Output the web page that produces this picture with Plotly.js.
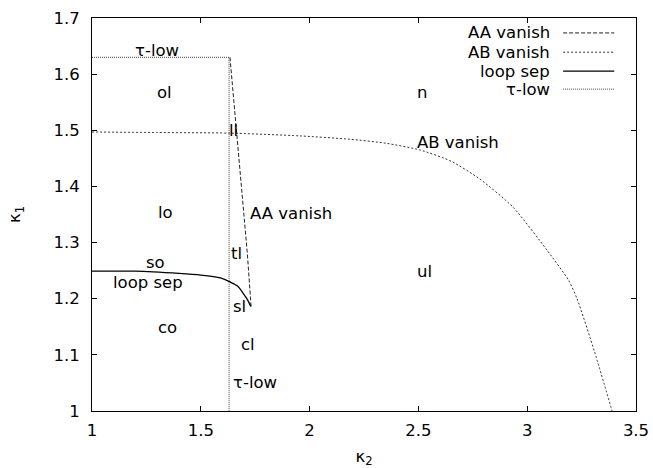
<!DOCTYPE html>
<html>
<head>
<meta charset="utf-8">
<script src="https://cdn.plot.ly/plotly-3.0.1.min.js"></script>
<style>html,body{margin:0;padding:0;background:#fff;}#chart{width:653px;height:468px;}</style>
</head>
<body>
<div id="chart"></div>
<script>
// Data
const aaX = [1.634, 1.649, 1.664, 1.691, 1.714, 1.731];
const aaY = [1.63, 1.565, 1.497, 1.38, 1.28, 1.186];

const abX = [1.0, 1.3, 1.63, 1.956, 2.186, 2.35, 2.507, 2.65, 2.783, 2.935, 3.09, 3.19, 3.229, 3.31, 3.39];
const abY = [1.497, 1.496, 1.495, 1.490, 1.484, 1.477, 1.465, 1.445, 1.413, 1.363, 1.287, 1.233, 1.2, 1.105, 1.0];

const loopX = [1.0, 1.2, 1.4, 1.5, 1.59, 1.634, 1.67, 1.694, 1.715, 1.73];
const loopY = [1.249, 1.249, 1.245, 1.242, 1.237, 1.230, 1.222, 1.21, 1.198, 1.186];

const tauX = [1.0, 1.63, 1.63];
const tauY = [1.63, 1.63, 1.0];

const seriesNames = ["AA vanish", "AB vanish", "loop sep", "τ-low"];

const regionLabels = ["τ-low", "ol", "n", "ll", "AB vanish", "lo", "AA vanish", "tl", "so", "loop sep", "ul", "sl", "co", "cl", "τ-low"];
const regionX = [1.30, 1.335, 2.517, 1.648, 2.68, 1.34, 1.915, 1.666, 1.294, 1.257, 2.53, 1.68, 1.345, 1.717, 1.75];
const regionY = [1.643, 1.568, 1.568, 1.50, 1.479, 1.353, 1.351, 1.28, 1.264, 1.228, 1.248, 1.187, 1.148, 1.119, 1.05];

const xTicks = [1, 1.5, 2, 2.5, 3, 3.5];
const xTickText = ["1", "1.5", "2", "2.5", "3", "3.5"];
const yTicks = [1, 1.1, 1.2, 1.3, 1.4, 1.5, 1.6, 1.7];
const yTickText = ["1", "1.1", "1.2", "1.3", "1.4", "1.5", "1.6", "1.7"];

const styles = [
  {color: "#222", width: 1, dash: "4px,2px"},
  {color: "#333", width: 1, dash: "2px,2px"},
  {color: "#000", width: 1.3, dash: "solid"},
  {color: "#444", width: 1, dash: "1px,1px"}
];
const shapesLine = ["linear", "spline", "spline", "linear"];
const xs = [aaX, abX, loopX, tauX];
const ys = [aaY, abY, loopY, tauY];

const traces = xs.map((x, i) => ({
  x: x, y: ys[i], type: "scatter", mode: "lines", name: seriesNames[i],
  line: Object.assign({shape: shapesLine[i], smoothing: 0.6}, styles[i]),
  showlegend: false, hoverinfo: "skip"
}));

const font = {family: "DejaVu Sans, Liberation Sans, Arial, sans-serif", size: 16.5, color: "#000"};

const annotations = regionLabels.map((t, i) => ({
  x: regionX[i], y: regionY[i], xref: "x", yref: "y", text: t,
  showarrow: false, font: font, xanchor: "center", yanchor: "middle"
}));

// legend (gnuplot style: text right-aligned, sample on right)
const legY = [0.962, 0.913, 0.865, 0.819];
const shapes = [];
seriesNames.forEach((n, i) => {
  annotations.push({
    x: 0.846, y: legY[i], xref: "paper", yref: "paper", text: n,
    showarrow: false, font: font, xanchor: "right", yanchor: "middle"
  });
  shapes.push({
    type: "line", xref: "paper", yref: "paper",
    x0: 0.866, x1: 0.960, y0: legY[i], y1: legY[i],
    line: styles[i]
  });
});

const axisCommon = {
  showline: true, linecolor: "#000", linewidth: 1, mirror: "ticks",
  ticks: "inside", ticklen: 5, tickwidth: 1, tickcolor: "#000",
  showgrid: false, zeroline: false, tickfont: font
};

const layout = {
  width: 653, height: 468,
  margin: {l: 92, r: 17, t: 18, b: 57},
  paper_bgcolor: "#fff", plot_bgcolor: "#fff",
  font: font,
  showlegend: false,
  xaxis: Object.assign({}, axisCommon, {
    range: [1, 3.5], tickvals: xTicks, ticktext: xTickText,
    ticklabelstandoff: 4,
    title: {text: "κ<sub>2</sub>", font: font, standoff: 14}
  }),
  yaxis: Object.assign({}, axisCommon, {
    range: [1, 1.7], tickvals: yTicks, ticktext: yTickText,
    ticklabelstandoff: 8,
    title: {text: "κ<sub>1</sub>", font: font, standoff: 28}
  }),
  annotations: annotations,
  shapes: shapes
};

Plotly.newPlot("chart", traces, layout, {staticPlot: true, displayModeBar: false});
</script>
</body>
</html>
